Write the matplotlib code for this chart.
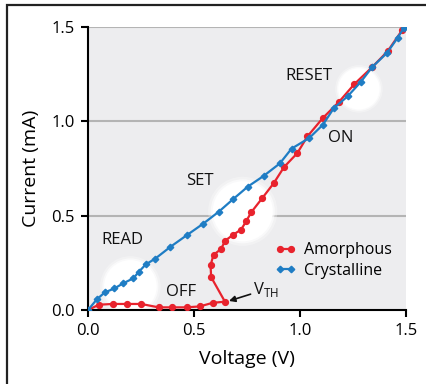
import matplotlib
matplotlib.use("Agg")
import matplotlib.pyplot as plt
from matplotlib.patches import Rectangle

plt.rcParams['font.family'] = ['Open Sans', 'DejaVu Sans']

amor_v = [0, 0.051, 0.116, 0.183, 0.251, 0.333, 0.397, 0.465, 0.527, 0.588, 0.646,
          0.581, 0.578, 0.592, 0.627, 0.648, 0.686, 0.722, 0.746, 0.770, 0.822, 0.876,
          0.925, 0.987, 1.035, 1.108, 1.183, 1.257, 1.341, 1.413, 1.481]
amor_i = [0, 0.028, 0.032, 0.032, 0.032, 0.014, 0.014, 0.014, 0.019, 0.038, 0.044,
          0.174, 0.237, 0.292, 0.323, 0.368, 0.400, 0.426, 0.470, 0.518, 0.593, 0.672,
          0.758, 0.831, 0.920, 1.018, 1.102, 1.198, 1.288, 1.371, 1.482]

cryst_v = [0, 0.043, 0.079, 0.124, 0.167, 0.214, 0.241, 0.273, 0.317, 0.389, 0.468,
           0.544, 0.617, 0.686, 0.754, 0.829, 0.905, 0.960, 1.044, 1.108, 1.159, 1.225,
           1.286, 1.341, 1.410, 1.460, 1.49]
cryst_i = [0, 0.058, 0.093, 0.114, 0.142, 0.168, 0.204, 0.242, 0.272, 0.335, 0.398,
           0.458, 0.521, 0.589, 0.654, 0.711, 0.777, 0.855, 0.912, 0.982, 1.069, 1.133,
           1.208, 1.288, 1.362, 1.442, 1.495]

glow_v = [0.20, 0.73, 1.278]
glow_i = [0.125, 0.523, 1.172]
glow_r = [28, 32, 22]  # pixels

labels = ["READ", "SET", "RESET", "ON", "OFF"]
label_v = [0.16, 0.527, 1.04, 1.19, 0.437]
label_i = [0.37, 0.684, 1.24, 0.91, 0.095]

xticks = [0.0, 0.5, 1.0, 1.5]
yticks = [0.0, 0.5, 1.0, 1.5]

fig = plt.figure(figsize=(4.26, 3.84), dpi=100)
ax = fig.add_axes([88/426, 1-310/384, (406-88)/426, (310-27)/384])
ax.set_facecolor('#EDEDEF')
ax.set_xlim(0, 1.5)
ax.set_ylim(0, 1.5)

for y in [0.5, 1.0, 1.5]:
    ax.axhline(y, color='#B4B4B4', lw=1.5, zorder=0.5)

# glows
for v, i, r in zip(glow_v, glow_i, glow_r):
    for k, a in [(1.08, 0.3), (1.0, 0.6), (0.94, 1.0)]:
        d = 2 * r * k * 0.72
        ax.scatter([v], [i], s=d**2, color='white', alpha=a, edgecolors='none', zorder=1)

ax.plot(amor_v, amor_i, color='#E8232D', lw=1.6, marker='o', ms=4.2, label='Amorphous', zorder=3)
ax.plot(cryst_v, cryst_i, color='#1F7DC4', lw=1.6, marker='D', ms=3.3, label='Crystalline', zorder=4)

for t, v, i in zip(labels, label_v, label_i):
    ax.text(v, i, t, fontsize=12, ha='center', va='center', color='#111111', zorder=5)

ax.annotate("V$_{\\mathregular{TH}}$", xy=(0.665, 0.048), xytext=(0.78, 0.11),
            fontsize=12, ha='left', va='center', color='#111111',
            arrowprops=dict(arrowstyle='-|>', color='#111111', lw=1.2, shrinkA=0, shrinkB=0,
                            mutation_scale=9))

leg = ax.legend(loc='lower right', bbox_to_anchor=(1.0, 0.06), frameon=False, numpoints=2,
                fontsize=11.5, handlelength=1.3, handletextpad=0.5, labelspacing=0.28)

for s in ['top', 'right']:
    ax.spines[s].set_visible(False)
for s in ['left', 'bottom']:
    ax.spines[s].set_linewidth(1.5)
ax.set_xticks(xticks)
ax.set_yticks(yticks)
ax.set_xticklabels([f"{t:.1f}" for t in xticks])
ax.set_yticklabels([f"{t:.1f}" for t in yticks])
ax.tick_params(direction='out', length=5, width=1.5, labelsize=12, pad=4.5)
ax.set_xlabel('Voltage (V)', fontsize=14, labelpad=7.5)
ax.set_ylabel('Current (mA)', fontsize=14, labelpad=8)

fig.patches.append(Rectangle((7/426, -0.5), 2, 0.5 + (1 - 5/384), transform=fig.transFigure,
                             fill=False, edgecolor='#222222', lw=1.6))

fig.savefig('out.png', dpi=100)
